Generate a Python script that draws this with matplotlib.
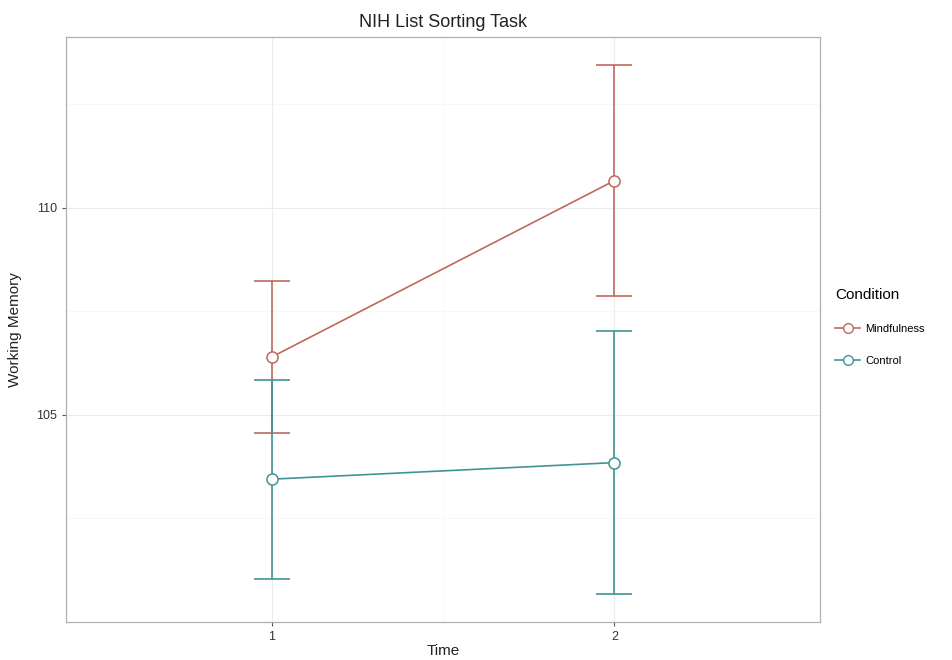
import matplotlib
matplotlib.use("Agg")
import matplotlib.pyplot as plt
from matplotlib.lines import Line2D

plt.rcParams['font.family'] = ['Liberation Sans', 'DejaVu Sans']

times = [1, 2]
time_labels = ["1", "2"]
conditions = ["Mindfulness", "Control"]
mind_mean = [106.40, 110.66]
mind_err = [1.84, 2.79]
ctrl_mean = [103.45, 103.85]
ctrl_err = [2.40, 3.17]
colors = {"Mindfulness": "#c0685c", "Control": "#3f9496"}

fig = plt.figure(figsize=(9.52, 6.6), dpi=100)
ax = fig.add_axes([66/952, 1 - 622/660, (820-66)/952, (622-37)/660])

for name, m, e in [("Mindfulness", mind_mean, mind_err), ("Control", ctrl_mean, ctrl_err)]:
    c = colors[name]
    ax.errorbar(times, m, yerr=e, color=c, capsize=13, elinewidth=1.2,
                capthick=1.2, linestyle='none', zorder=2)
    ax.plot(times, m, color=c, lw=1.2, marker='o', markersize=8,
            markerfacecolor='white', markeredgecolor=c, markeredgewidth=1.1, zorder=3)

ax.set_xlim(0.4, 2.6)
ax.set_ylim(100.0, 114.13)
ax.set_xticks(times)
ax.set_xticklabels(time_labels)
ax.set_yticks([105, 110])
ax.set_yticks([102.5, 107.5, 112.5], minor=True)
ax.set_xticks([1.5], minor=True)
ax.grid(True, which='major', color='#ececec', lw=0.8)
ax.grid(True, which='minor', color='#f6f6f6', lw=0.6)
ax.set_axisbelow(True)
for s in ax.spines.values():
    s.set_color('#b0b0b0')
    s.set_linewidth(0.9)
ax.tick_params(axis='both', which='major', length=3, color='#555555', labelsize=9, labelcolor='#333333')
ax.tick_params(axis='both', which='minor', length=0)

ax.set_title("NIH List Sorting Task", fontsize=13, color='#222222', pad=7)
ax.set_xlabel("Time", fontsize=11, color='#222222', labelpad=1)
ax.set_ylabel("Working Memory", fontsize=11, color='#222222', labelpad=10)

handles = [Line2D([0], [0], color=colors[n], lw=1.2, marker='o', markersize=7,
                  markerfacecolor='white', markeredgecolor=colors[n]) for n in conditions]
leg = ax.legend(handles, conditions, title="Condition", loc='upper left',
                bbox_to_anchor=(1.01, 0.585), frameon=False, fontsize=8,
                title_fontsize=11, handlelength=2.2, labelspacing=2.0,
                borderaxespad=0.3, handletextpad=0.5)
leg._legend_box.align = "left"

fig.savefig("out.png", dpi=100)
